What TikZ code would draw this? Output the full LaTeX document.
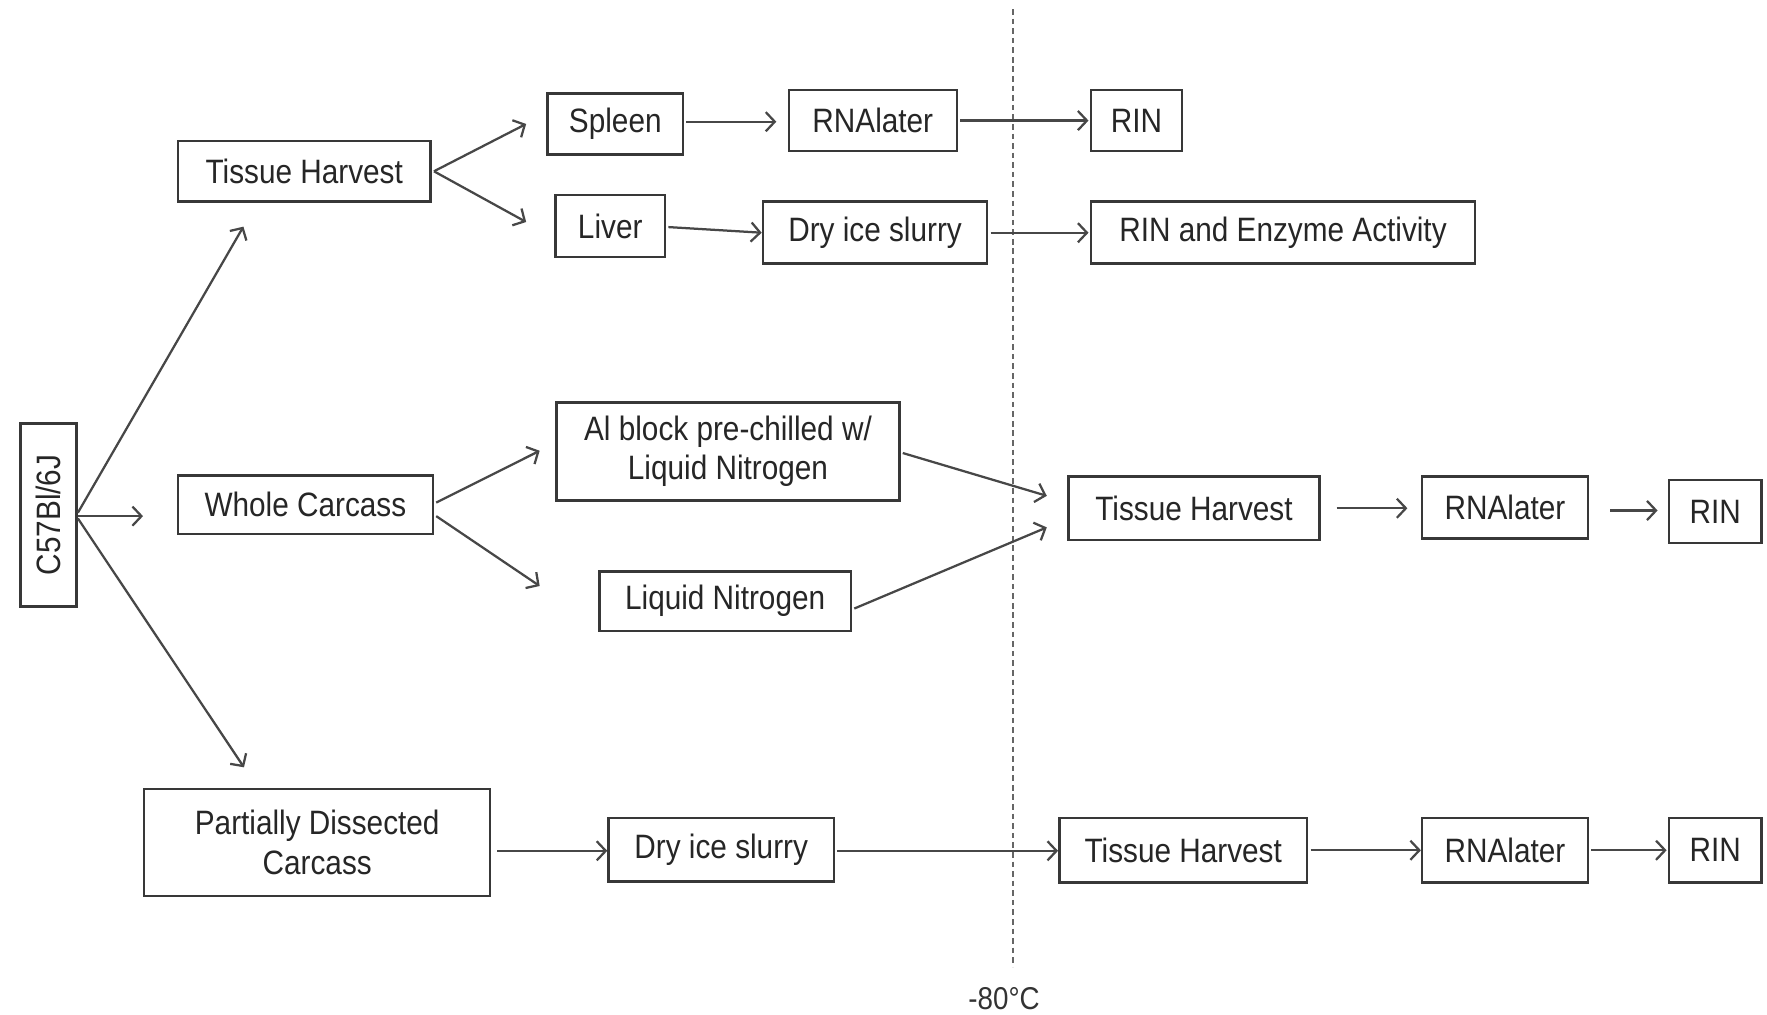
\documentclass[tikz,border=0pt]{standalone}
\usepackage{fontspec}
\setmainfont{Liberation Sans}[FakeStretch=0.88]
\usetikzlibrary{arrows.meta,calc}
\tikzset{
  box/.style={draw=black!78, line width=2.2pt, fill=white, inner sep=0pt, align=center,
    font=\fontsize{30}{35}\selectfont, text=black!85},
  arr/.style={draw=black!72, line width=2pt, -{Straight Barb[length=8pt,width=17pt]}},
  sep/.style={draw=black!60, line width=1.3pt, dash pattern=on 5pt off 3.5pt},
  lbl/.style={font=\fontsize{28}{32}\selectfont, text=black!80, inner sep=0pt}
}
\begin{document}
\begin{tikzpicture}[x=1pt,y=-1pt]
\useasboundingbox (0,0) rectangle (1568,900);
% separator
\coordinate (sepTop) at (899,8);
\coordinate (sepBot) at (899,858);
\draw[sep] (sepTop) -- (sepBot);
\node[lbl] (temp) at (891,886) {-80°C};
% nodes
\node[box, minimum width=50, minimum height=162] (c57) at (43,457) {\rotatebox{90}{C57Bl/6J}};
\node[box, minimum width=224, minimum height=54] (th1) at (270,152) {Tissue Harvest};
\node[box, minimum width=120, minimum height=54] (spleen) at (546,110) {Spleen};
\node[box, minimum width=149, minimum height=54] (rna1) at (774.5,107) {RNAlater};
\node[box, minimum width=81, minimum height=54] (rin1) at (1008.5,107) {RIN};
\node[box, minimum width=97, minimum height=55] (liver) at (541.5,200.5) {Liver};
\node[box, minimum width=199, minimum height=55] (dis1) at (776.5,206.5) {Dry ice slurry};
\node[box, minimum width=341, minimum height=55] (rinea) at (1138.5,206.5) {RIN and Enzyme Activity};
\node[box, minimum width=226, minimum height=52] (wc) at (271,448) {Whole Carcass};
\node[box, minimum width=304, minimum height=87] (al) at (646,400.5) {Al block pre-chilled w/\\Liquid Nitrogen};
\node[box, minimum width=223, minimum height=53] (ln) at (643.5,533.5) {Liquid Nitrogen};
\node[box, minimum width=223, minimum height=56] (th2) at (1059.5,451) {Tissue Harvest};
\node[box, minimum width=147, minimum height=55] (rna2) at (1335.5,450.5) {RNAlater};
\node[box, minimum width=82, minimum height=56] (rin2) at (1522,454) {RIN};
\node[box, minimum width=307, minimum height=95] (pdc) at (281.5,747.5) {Partially Dissected\\Carcass};
\node[box, minimum width=200, minimum height=56] (dis2) at (640,754) {Dry ice slurry};
\node[box, minimum width=220, minimum height=57] (th3) at (1050,754.5) {Tissue Harvest};
\node[box, minimum width=147, minimum height=57] (rna3) at (1335.5,754.5) {RNAlater};
\node[box, minimum width=82, minimum height=57] (rin3) at (1522,754.5) {RIN};
% connectors
\draw[arr] ([shift={(0,-2)}]c57.east) -- ([shift={(-54,21)}]th1.south);
\draw[arr] ([shift={(0,1)}]c57.east) -- ([shift={(-30,10)}]wc.west);
\draw[arr] ([shift={(0,3)}]c57.east) -- ([shift={(-65,-18)}]pdc.north);
\draw[arr] ([shift={(2,0)}]th1.east) -- ([shift={(-18,0)}]spleen.west);
\draw[arr] ([shift={(2,0)}]th1.east) -- ([shift={(-25,-3.5)}]liver.west);
\draw[arr] ([shift={(2,-2)}]spleen.east) -- ([shift={(-10,1)}]rna1.west);
\draw[arr] ([shift={(2,0)}]rna1.east) -- ([shift={(-1,0)}]rin1.west);
\draw[arr] ([shift={(2,1)}]liver.east) -- (dis1.west);
\draw[arr] ([shift={(2,0)}]dis1.east) -- ([shift={(-1,0)}]rinea.west);
\draw[arr] ([shift={(2,-2)}]wc.east) -- ([shift={(-14,-0.5)}]al.west);
\draw[arr] ([shift={(2,10)}]wc.east) -- ([shift={(-52,-13.5)}]ln.west);
\draw[arr] ([shift={(2,1.5)}]al.east) -- ([shift={(-18,-11)}]th2.west);
\draw[arr] ([shift={(2,6.5)}]ln.east) -- ([shift={(-18,17)}]th2.west);
\draw[arr] ([shift={(14,0)}]th2.east) -- ([shift={(-12,0.5)}]rna2.west);
\draw[arr] ([shift={(19,2.5)}]rna2.east) -- ([shift={(-9,-1)}]rin2.west);
\draw[arr] ([shift={(5,7.5)}]pdc.east) -- ([shift={(0,1)}]dis2.west);
\draw[arr] ([shift={(2,1)}]dis2.east) -- ([shift={(0,0.5)}]th3.west);
\draw[arr] ([shift={(2,0)}]th3.east) -- (rna3.west);
\draw[arr] ([shift={(2,0)}]rna3.east) -- ([shift={(-1,0)}]rin3.west);
\end{tikzpicture}
\end{document}
